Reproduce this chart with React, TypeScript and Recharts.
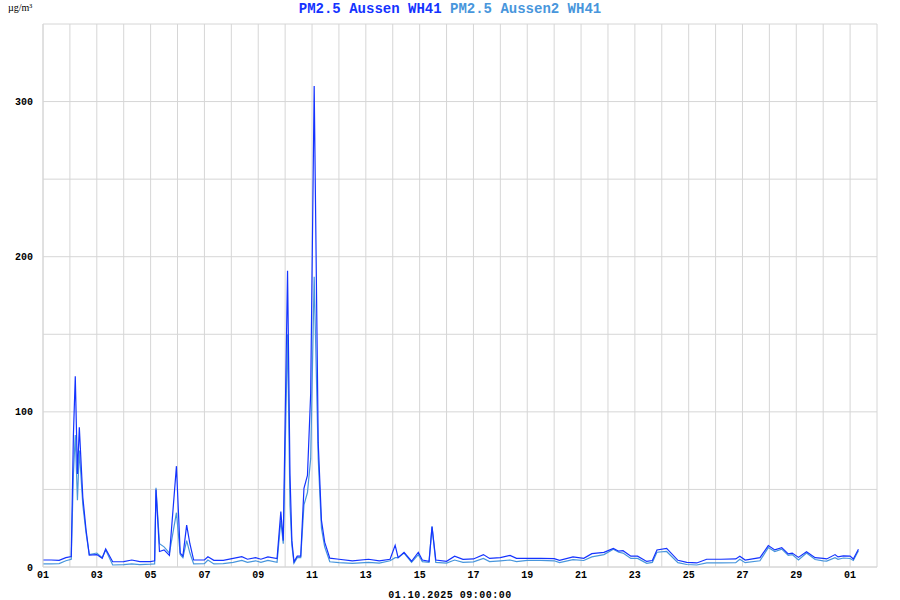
import React from 'react';
import { LineChart, Line, XAxis, YAxis, CartesianGrid } from 'recharts';

// time offset in days from 01.09.2025 00:00
const days = [
  0.0, 0.3, 0.6, 0.85, 1.05, 1.13, 1.2, 1.28, 1.35, 1.48, 1.6, 1.72, 2.0, 2.2, 2.33, 2.59, 3.0, 3.3, 3.6, 4.0,
  4.15, 4.2, 4.33, 4.5, 4.7, 4.96, 5.1, 5.2, 5.34, 5.46, 5.6, 6.0, 6.13, 6.35, 6.7, 7.07, 7.39, 7.6, 7.9, 8.1,
  8.36, 8.7, 8.84, 8.93, 9.09, 9.18, 9.25, 9.33, 9.45, 9.58, 9.7, 9.83, 9.95, 10.08, 10.23, 10.35, 10.47, 10.66, 11.0, 11.5,
  12.1, 12.5, 12.9, 13.09, 13.2, 13.42, 13.7, 13.95, 14.1, 14.35, 14.46, 14.6, 15.0, 15.3, 15.61, 16.0, 16.37, 16.6, 17.0, 17.36,
  17.6, 18.0, 18.5, 19.0, 19.2, 19.7, 20.1, 20.4, 20.85, 21.2, 21.4, 21.56, 21.85, 22.1, 22.44, 22.65, 22.82, 23.18, 23.6, 23.93,
  24.3, 24.67, 25.2, 25.75, 25.9, 26.1, 26.65, 26.96, 27.2, 27.46, 27.7, 27.85, 28.08, 28.38, 28.7, 29.0, 29.13, 29.44, 29.55, 29.75,
  30.0, 30.12, 30.31,
];

const aussen = [
  4.5, 4.5, 4.3, 6.0, 6.7, 85, 123, 60, 90, 45, 24, 7.7, 8, 5.6, 11.6, 3.4, 3.5, 4.5, 3.5, 3.5,
  4, 50, 10, 11, 7.5, 65, 9, 7, 27, 15, 4.5, 4.5, 6.6, 4.3, 4.3, 5.6, 6.7, 5.0, 6.0, 5.0,
  6.5, 5.5, 35.7, 17, 191, 60, 17, 3.4, 7, 7, 50.7, 59, 112, 310, 80, 30, 16, 5.7, 5.0, 4.0,
  5.0, 4.0, 5.0, 14, 6, 9.5, 3.7, 9.5, 4.5, 3.7, 26, 4.5, 3.7, 7, 4.9, 5.2, 8, 5.5, 6.0, 7.5,
  5.6, 5.6, 5.6, 5.4, 4.3, 6.5, 5.6, 8.6, 9.4, 12, 10.2, 10.5, 7, 7, 3.6, 4.2, 11, 12, 4.3, 3,
  2.6, 5, 5, 5.2, 7, 4.5, 6, 13.8, 11, 12.5, 8.5, 9, 6.2, 9.8, 6, 5.5, 5.2, 8, 6.5, 7.2,
  7, 5.2, 11.4,
];

const aussen2 = [
  2.0, 2.0, 2.2, 4.0, 5.0, 60, 85, 43, 75, 40, 22, 8, 9, 6, 11, 1.3, 1.5, 2.0, 1.5, 1.8,
  2, 51, 15, 13, 9, 35, 8, 6, 17, 9, 2, 2.2, 4.5, 2.0, 2.2, 3.0, 4.2, 3.0, 4.0, 3.0,
  4.3, 3.0, 30, 15, 150, 40, 14, 2.5, 6, 6, 40, 48, 70, 187, 70, 25, 13, 3.4, 2.8, 2.4,
  3.0, 2.5, 4.0, 6, 6, 9, 3.0, 8, 3.5, 3.0, 26, 3.0, 2.5, 4.5, 3.0, 3.3, 5.5, 3.5, 4.0, 4.5,
  3.5, 4.3, 4.3, 4.0, 2.8, 4.8, 4.2, 6.5, 8, 11.5, 9.5, 9, 5.5, 5.5, 2.4, 3, 9.5, 10, 2.8, 1.6,
  1.3, 2.6, 2.6, 2.8, 5, 2.8, 4, 12.5, 10, 11.5, 7.5, 8, 4.5, 9, 4.8, 4, 3.8, 6, 5, 5.8,
  5.5, 4.2, 10.5,
];

const dayTicks = Array.from({ length: 32 }, (_, i) => i);
const valueTicks = [0, 50, 100, 150, 200, 250, 300, 350];
const valueLabels = [0, 100, 200, 300];

const data = days.map((t, i) => ({ t, a: aussen[i], b: aussen2[i] }));

const dayLabel = (d: number) => {
  if (d % 2 !== 0) return '';
  const dt = new Date(2025, 8, 1 + d);
  return String(dt.getDate()).padStart(2, '0');
};

const mono = '"Liberation Mono", "DejaVu Sans Mono", monospace';

export default function App() {
  return (
    <div style={{ position: 'absolute', left: 0, top: 0, width: 900, height: 600, background: '#fff' }}>
      <div style={{ position: 'absolute', left: 8, top: 2, fontFamily: '"Liberation Serif", serif', fontSize: 10, color: '#000' }}>
        µg/m³
      </div>
      <div style={{ position: 'absolute', left: 0, top: 0, width: 900, textAlign: 'center', fontFamily: mono, fontSize: 14, fontWeight: 'bold', lineHeight: '18px', whiteSpace: 'pre' }}>
        <span style={{ color: '#1433ff' }}>PM2.5 Aussen WH41</span>
        <span style={{ color: '#4896dc' }}> PM2.5 Aussen2 WH41</span>
      </div>
      <LineChart width={900} height={600} data={data} margin={{ top: 24, right: 23, left: 0, bottom: 0 }}>
        <CartesianGrid stroke="#d6d6d6" strokeWidth={1} />
        <XAxis
          dataKey="t"
          type="number"
          domain={[0, 31]}
          ticks={dayTicks}
          interval={0}
          tickFormatter={dayLabel}
          height={33}
          tickLine={false}
          axisLine={{ stroke: '#d6d6d6' }}
          tick={{ fontSize: 10, fontFamily: mono, fontWeight: 'bold', fill: '#000' }}
          tickMargin={-2}
        />
        <YAxis
          type="number"
          domain={[0, 350]}
          ticks={valueTicks}
          interval={0}
          tickFormatter={(v: number) => (valueLabels.includes(v) ? String(v) : '')}
          width={43}
          tickLine={false}
          axisLine={{ stroke: '#d6d6d6' }}
          tick={{ fontSize: 10, fontFamily: mono, fontWeight: 'bold', fill: '#000' }}
          tickMargin={4}
        />
        <Line dataKey="b" stroke="#4896dc" strokeWidth={1.2} dot={false} isAnimationActive={false} type="linear" />
        <Line dataKey="a" stroke="#1433ff" strokeWidth={1.2} dot={false} isAnimationActive={false} type="linear" />
      </LineChart>
      <div style={{ position: 'absolute', left: 0, top: 590, width: 900, textAlign: 'center', fontFamily: mono, fontSize: 10, fontWeight: 'bold', color: '#000', letterSpacing: 0.5 }}>
        01.10.2025 09:00:00
      </div>
    </div>
  );
}
